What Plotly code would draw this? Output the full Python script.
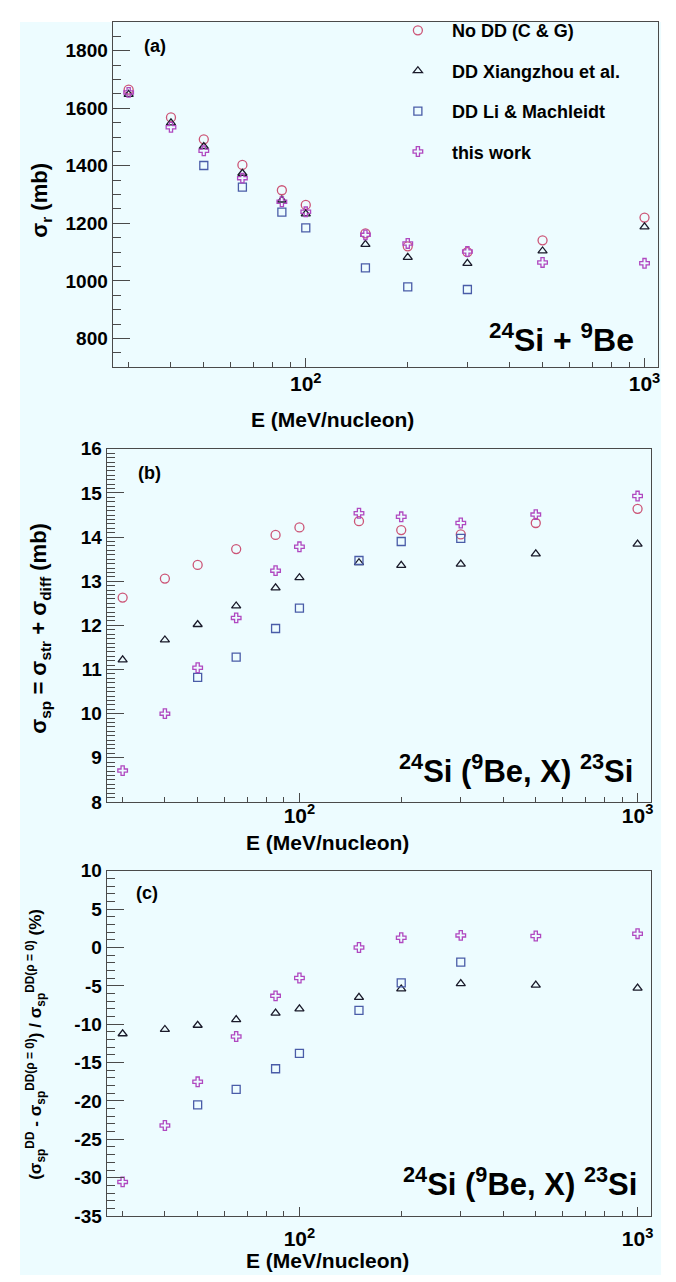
import plotly.graph_objects as go

W, H = 676, 1282

# ---------------- data ----------------
E = [30, 40, 50, 65, 85, 100, 150, 200, 300, 500, 1000]
E_LM = [50, 65, 85, 100, 150, 200, 300]

# (a) reaction cross section sigma_r (mb)
sr_nodd = [1665, 1568, 1492, 1403, 1315, 1264, 1165, 1120, 1100, 1141, 1220]
sr_xz = [1648, 1549, 1467, 1374, 1281, 1233, 1127, 1082, 1061, 1104, 1188]
sr_lm = [1401, 1326, 1239, 1184, 1045, 979, 970]
sr_tw = [1655, 1534, 1452, 1357, 1275, 1240, 1160, 1130, 1102, 1064, 1061]

# (b) single-particle cross section sigma_sp (mb)
sp_nodd = [12.63, 13.06, 13.37, 13.73, 14.05, 14.22, 14.36, 14.16, 14.06, 14.32, 14.64]
sp_xz = [11.22, 11.67, 12.02, 12.44, 12.85, 13.08, 13.42, 13.36, 13.39, 13.62, 13.84]
sp_lm = [10.82, 11.28, 11.93, 12.39, 13.47, 13.90, 13.97]
sp_tw = [8.71, 10.0, 11.04, 12.17, 13.24, 13.78, 14.54, 14.46, 14.32, 14.51, 14.93]

# (c) relative difference (%)
rel_xz = [-11.24, -10.68, -10.13, -9.4, -8.55, -8.0, -6.5, -5.4, -4.7, -4.9, -5.3]
rel_lm = [-20.5, -18.5, -15.8, -13.8, -8.2, -4.6, -1.9]
rel_tw = [-30.55, -23.2, -17.5, -11.6, -6.3, -3.97, 0.0, 1.28, 1.58, 1.5, 1.8]

series_names = ["No DD (C &amp; G)", "DD Xiangzhou et al.", "DD Li &amp; Machleidt", "this work"]

# tick labels
yticks_a = [800, 1000, 1200, 1400, 1600, 1800]
yticks_b = [8, 9, 10, 11, 12, 13, 14, 15, 16]
yticks_c = [-35, -30, -25, -20, -15, -10, -5, 0, 5, 10]
yticktext_c = ["-35", "-30", "-25", "-20", "-15", "-10", "-5", "0", "5", "10"]
xticks = [100, 1000]
xticktext = ["10<sup>2</sup>", "10<sup>3</sup>"]

# ---------------- style ----------------
FONT = "Liberation Sans, Arial, Helvetica, sans-serif"
BG = "#edfcff"
C_NODD = "#cc5577"
C_XZ = "#1a1a2a"
C_LM = "#4a5ca8"
C_TW = "#b048c0"
AX = "#4a4a4a"

styles = [
    dict(symbol="circle-open", color=C_NODD, size=9),
    dict(symbol="triangle-up-open", color=C_XZ, size=8),
    dict(symbol="square-open", color=C_LM, size=8),
    dict(symbol="cross-open", color=C_TW, size=8),
]

fig = go.Figure()

def add(x, y, k, xa, ya, show):
    st = styles[k]
    fig.add_trace(go.Scatter(
        x=x, y=y, mode="markers", name=series_names[k],
        legendgroup=f"g{k}", showlegend=show,
        xaxis=xa, yaxis=ya,
        marker=dict(symbol=st["symbol"], size=st["size"], color=st["color"],
                    line=dict(color=st["color"], width=1.3)),
    ))

# panel a
add(E, sr_nodd, 0, "x", "y", True)
add(E, sr_xz, 1, "x", "y", True)
add(E_LM, sr_lm, 2, "x", "y", True)
add(E, sr_tw, 3, "x", "y", True)
# panel b
add(E, sp_nodd, 0, "x2", "y2", False)
add(E, sp_xz, 1, "x2", "y2", False)
add(E_LM, sp_lm, 2, "x2", "y2", False)
add(E, sp_tw, 3, "x2", "y2", False)
# panel c
add(E, rel_xz, 1, "x3", "y3", False)
add(E_LM, rel_lm, 2, "x3", "y3", False)
add(E, rel_tw, 3, "x3", "y3", False)

def px(xp):
    return xp / W

def py(yp):
    return 1 - yp / H

minor_x = [v for v in range(30, 100, 10)] + [v for v in range(200, 1000, 100)]

def xaxis(dom, anchor, standoff):
    return dict(
        type="log", range=[1.43, 3.04], domain=dom, anchor=anchor,
        tickvals=xticks, ticktext=xticktext,
        ticks="inside", ticklen=9, tickwidth=1, tickcolor=AX,
        minor=dict(tickvals=minor_x, ticks="inside", ticklen=5, tickwidth=1, tickcolor=AX),
        showline=True, linecolor=AX, linewidth=1.2, mirror=True,
        showgrid=False, zeroline=False, ticklabelstandoff=standoff,
        tickfont=dict(family=FONT, size=21, color="black", weight="bold"),
    )

def yaxis(dom, anchor, rng, tv, tt, mdtick):
    return dict(
        range=rng, domain=dom, anchor=anchor, tickvals=tv, ticktext=tt,
        ticks="inside", ticklen=17, tickwidth=1, tickcolor=AX,
        minor=dict(dtick=mdtick, tick0=0, ticks="inside", ticklen=8, tickwidth=1, tickcolor=AX),
        showline=True, linecolor=AX, linewidth=1.2, mirror=True,
        showgrid=False, zeroline=False,
        tickfont=dict(family=FONT, size=19, color="black", weight="bold"),
    )

fig.update_layout(
    width=W, height=H,
    margin=dict(l=0, r=0, t=0, b=0),
    paper_bgcolor="white", plot_bgcolor=BG,
    font=dict(family=FONT, color="black"),
    xaxis=xaxis([px(105), px(652)], "y", -2),
    yaxis=yaxis([py(355), py(4)], "x", [700, 1900], yticks_a, [str(v) for v in yticks_a], 50),
    xaxis2=xaxis([px(99), px(645)], "y2", -5),
    yaxis2=yaxis([py(797), py(438)], "x2", [8, 16], yticks_b, [str(v) for v in yticks_b], 0.1),
    xaxis3=xaxis([px(99), px(645)], "y3", 4),
    yaxis3=yaxis([py(1218), py(867)], "x3", [-35, 10], yticks_c, yticktext_c, 1),
    legend=dict(
        x=px(377), y=py(-6), xanchor="left", yanchor="top",
        bgcolor="rgba(0,0,0,0)", borderwidth=0,
        font=dict(family=FONT, size=18, color="black", weight="bold"),
        tracegroupgap=14, itemwidth=58,
    ),
    shapes=[dict(type="rect", xref="paper", yref="paper",
                 x0=px(12), x1=px(655), y0=py(1278), y1=py(4),
                 fillcolor=BG, line=dict(width=0), layer="below")],
)

def ann(text, x, y, size, xanchor="center", yanchor="middle", angle=0):
    fig.add_annotation(
        text=text, xref="paper", yref="paper", x=px(x), y=py(y),
        xanchor=xanchor, yanchor=yanchor, showarrow=False, textangle=angle,
        font=dict(family=FONT, size=size, color="black", weight="bold"),
    )

# panel labels
ann("(a)", 147, 28, 18)
ann("(b)", 142, 463, 18)
ann("(c)", 139, 890, 18)

# reaction labels
ann("<sup>24</sup>Si + <sup>9</sup>Be", 630, 325, 32, xanchor="right")
ann("<sup>24</sup>Si (<sup>9</sup>Be, X) <sup>23</sup>Si", 629, 763, 31, xanchor="right")
ann("<sup>24</sup>Si (<sup>9</sup>Be, X) <sup>23</sup>Si", 633, 1183, 31, xanchor="right")

# x titles
ann("E (MeV/nucleon)", 325, 408, 21)
ann("E (MeV/nucleon)", 320, 838, 21)
ann("E (MeV/nucleon)", 320, 1263, 21)

# y titles
ann("σ<sub>r</sub> (mb)", 33, 185, 22, angle=-90)
ann("σ<sub>sp</sub> = σ<sub>str</sub> + σ<sub>diff</sub> (mb)", 32, 620, 22, angle=-90)
ann("(σ<sub>sp</sub><sup>DD</sup> - σ<sub>sp</sub><sup>DD(ρ = 0)</sup>) / σ<sub>sp</sub><sup>DD(ρ = 0)</sup> (%)",
    28, 1043, 17, angle=-90)

fig.write_html("out.html")
